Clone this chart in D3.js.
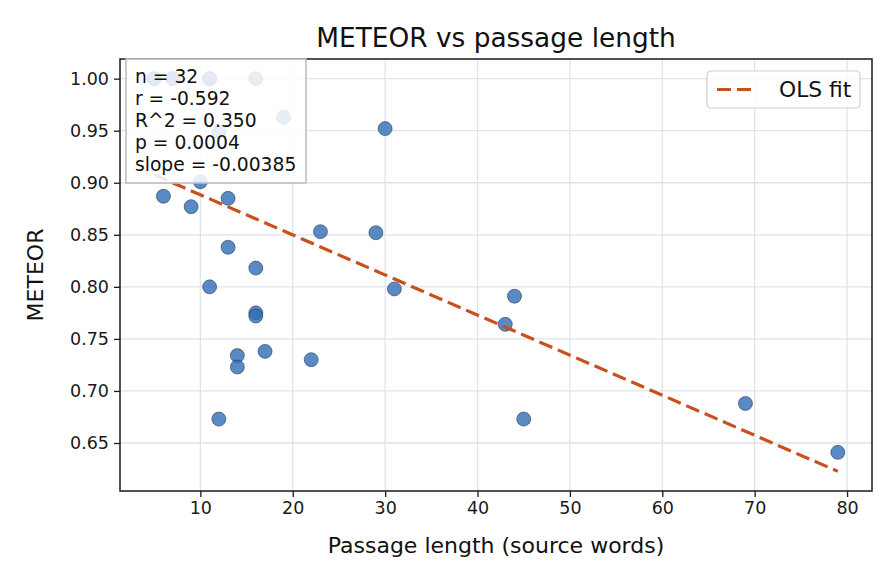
<!DOCTYPE html>
<html>
<head>
<meta charset="utf-8">
<style>
  body { margin: 0; background: #fff; font-family: "DejaVu Sans", sans-serif; }
  .axis path, .axis line { stroke: #1a1a1a; }
  .axis text { fill: #1a1a1a; font-family: "DejaVu Sans", sans-serif; font-size: 17.5px; }
  .grid line { stroke: #dde3ec; stroke-width: 1.3; }
</style>
</head>
<body>
<script src="https://d3js.org/d3.v7.min.js"></script>
<script>
// passage length (source words) and METEOR score, one entry per passage
var lengths = [5, 5, 6, 7, 7, 9, 10, 11, 11, 11, 12, 12, 13, 13, 14, 14,
               16, 16, 16, 16, 17, 19, 22, 23, 29, 30, 31, 43, 44, 45, 69, 79];
var meteor  = [1.000, 1.000, 0.887, 1.000, 1.000, 0.877, 0.901, 1.000, 1.000, 0.800, 0.949, 0.673, 0.885, 0.838, 0.734, 0.723,
               1.000, 0.818, 0.775, 0.772, 0.738, 0.963, 0.730, 0.853, 0.852, 0.952, 0.798, 0.764, 0.791, 0.673, 0.688, 0.641];

var fitSlope = -0.00385;
var fitIntercept = 0.9269;
var statsLines = ["n = 32", "r = -0.592", "R^2 = 0.350", "p = 0.0004", "slope = -0.00385"];
var xTicks = [10, 20, 30, 40, 50, 60, 70, 80];
var yTicks = [0.65, 0.70, 0.75, 0.80, 0.85, 0.90, 0.95, 1.00];

var data = lengths.map(function(d, i) { return { x: d, y: meteor[i] }; });

var W = 896, H = 584;
var margin = { top: 59, right: 24, bottom: 93, left: 120 };

var svg = d3.select("body").append("svg")
    .attr("width", W)
    .attr("height", H);

// matplotlib style autoscale: 5% margin around data + fit line
var xMin = d3.min(lengths), xMax = d3.max(lengths);
var fitLo = fitIntercept + fitSlope * xMax, fitHi = fitIntercept + fitSlope * xMin;
var yMin = Math.min(d3.min(meteor), fitLo), yMax = Math.max(d3.max(meteor), fitHi);
var xPad = (xMax - xMin) * 0.05, yPad = (yMax - yMin) * 0.05;

var x = d3.scaleLinear()
    .domain([xMin - xPad, xMax + xPad])
    .range([margin.left, W - margin.right]);

var y = d3.scaleLinear()
    .domain([yMin - yPad, yMax + yPad])
    .range([H - margin.bottom, margin.top]);

// grid
var grid = svg.append("g").attr("class", "grid");
grid.selectAll(".gx").data(xTicks).enter().append("line")
    .attr("x1", function(d) { return x(d); }).attr("x2", function(d) { return x(d); })
    .attr("y1", y.range()[0]).attr("y2", y.range()[1]);
grid.selectAll(".gy").data(yTicks).enter().append("line")
    .attr("x1", x.range()[0]).attr("x2", x.range()[1])
    .attr("y1", function(d) { return y(d); }).attr("y2", function(d) { return y(d); });

// points
svg.append("g").selectAll("circle")
    .data(data)
    .enter().append("circle")
    .attr("cx", function(d) { return x(d.x); })
    .attr("cy", function(d) { return y(d.y); })
    .attr("r", 7)
    .style("fill", "#2f6db5")
    .style("fill-opacity", 0.8)
    .style("stroke", "#1f2d44")
    .style("stroke-opacity", 0.9)
    .style("stroke-width", 0.6);

// OLS fit line
svg.append("line")
    .attr("x1", x(xMin)).attr("y1", y(fitHi))
    .attr("x2", x(xMax)).attr("y2", y(fitLo))
    .style("stroke", "#c8501e")
    .style("stroke-width", 3.2)
    .style("stroke-dasharray", "14,6");

// axes
svg.append("g")
    .attr("class", "axis")
    .attr("transform", "translate(0," + y.range()[0] + ")")
    .call(d3.axisBottom(x).tickValues(xTicks).tickSizeOuter(0).tickSize(6).tickPadding(5).tickFormat(d3.format("d")));

svg.append("g")
    .attr("class", "axis")
    .attr("transform", "translate(" + x.range()[0] + ",0)")
    .call(d3.axisLeft(y).tickValues(yTicks).tickSizeOuter(0).tickSize(6).tickPadding(5).tickFormat(d3.format(".2f")));

svg.selectAll(".axis .domain").remove();
svg.selectAll(".axis .tick line").style("stroke-width", 1.3);

// frame
svg.append("rect")
    .attr("x", x.range()[0]).attr("y", y.range()[1])
    .attr("width", x.range()[1] - x.range()[0])
    .attr("height", y.range()[0] - y.range()[1])
    .style("fill", "none")
    .style("stroke", "#1a1a1a")
    .style("stroke-width", 1.5);

// stats box
var sb = svg.append("g").attr("transform", "translate(126,59)");
sb.append("rect")
    .attr("width", 180).attr("height", 124)
    .style("fill", "#fff").style("fill-opacity", 0.85)
    .style("stroke", "#b4c0ce").style("stroke-width", 1.6);
sb.selectAll("text").data(statsLines).enter().append("text")
    .attr("x", 9)
    .attr("y", function(d, i) { return 24 + i * 22; })
    .style("font-size", "18.7px")
    .style("fill", "#111")
    .text(function(d) { return d; });

// legend
var lg = svg.append("g").attr("transform", "translate(707,71)");
lg.append("rect")
    .attr("width", 153).attr("height", 37).attr("rx", 4)
    .style("fill", "#fff").style("fill-opacity", 0.8)
    .style("stroke", "#d0d0d0").style("stroke-width", 1.2);
lg.append("line")
    .attr("x1", 10).attr("x2", 46).attr("y1", 18.5).attr("y2", 18.5)
    .style("stroke", "#c8501e").style("stroke-width", 3.2)
    .style("stroke-dasharray", "14,6");
lg.append("text")
    .attr("x", 72).attr("y", 26)
    .style("font-size", "21.8px").style("fill", "#111")
    .text("OLS fit");

// titles
svg.append("text")
    .attr("x", (x.range()[0] + x.range()[1]) / 2).attr("y", 47)
    .attr("text-anchor", "middle")
    .style("font-size", "26.4px").style("fill", "#111")
    .text("METEOR vs passage length");

svg.append("text")
    .attr("x", (x.range()[0] + x.range()[1]) / 2).attr("y", 553)
    .attr("text-anchor", "middle")
    .style("font-size", "22px").style("fill", "#111")
    .text("Passage length (source words)");

svg.append("text")
    .attr("transform", "translate(43," + ((y.range()[0] + y.range()[1]) / 2) + ") rotate(-90)")
    .attr("text-anchor", "middle")
    .style("font-size", "22px").style("fill", "#111")
    .text("METEOR");
</script>
</body>
</html>
